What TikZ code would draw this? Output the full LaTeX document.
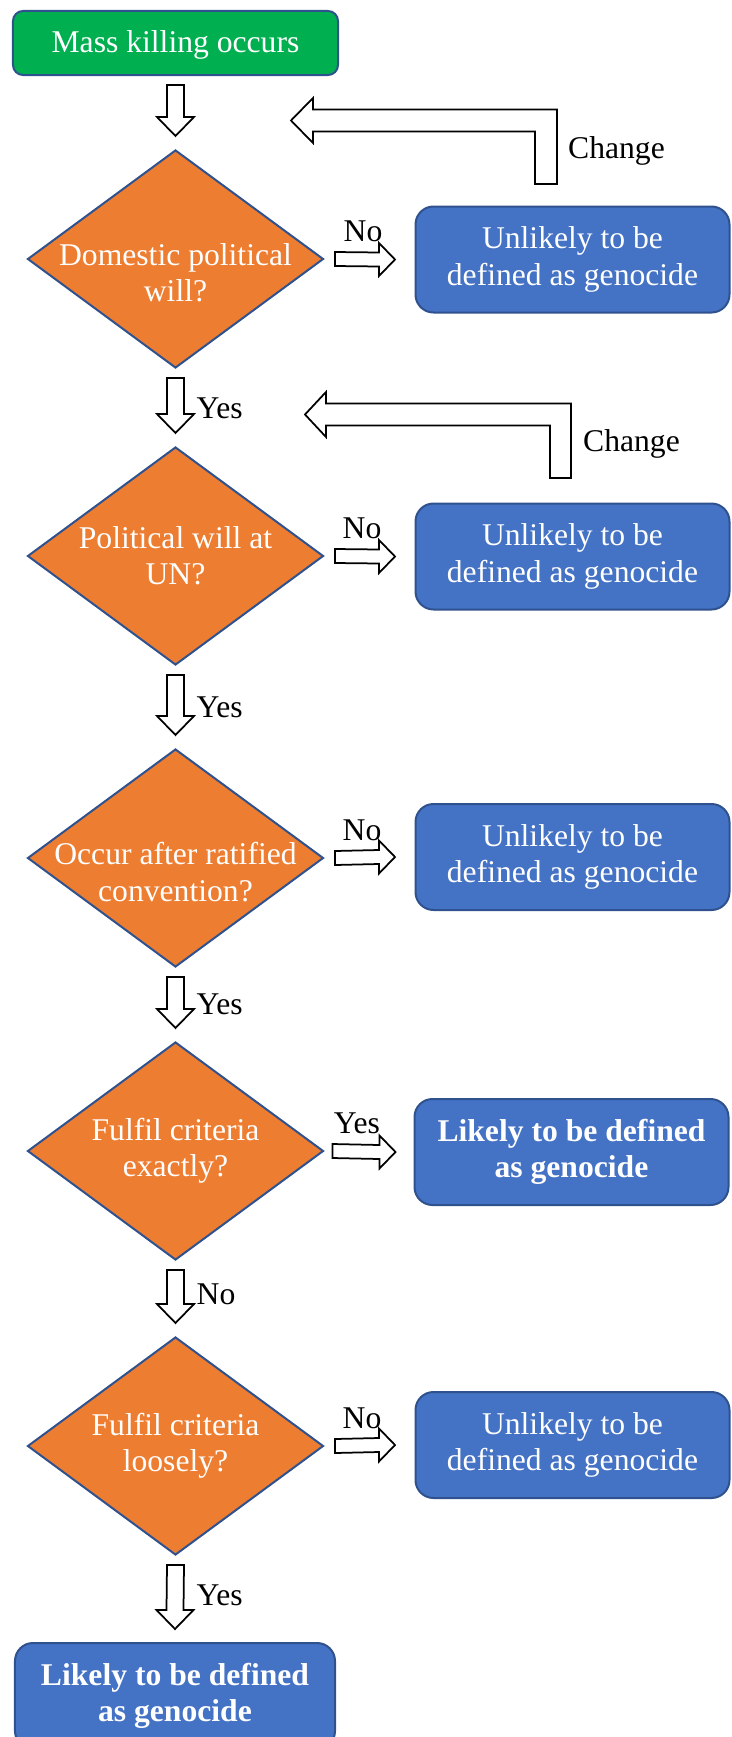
\documentclass[tikz,border=0pt]{standalone}
\usepackage{fontspec}
\setmainfont{Liberation Serif}
\usetikzlibrary{shapes.geometric,calc}

\definecolor{flowgreen}{HTML}{00B050}
\definecolor{floworange}{HTML}{ED7D31}
\definecolor{flowblue}{HTML}{4472C4}
\definecolor{flowedge}{HTML}{2F528F}

\begin{document}
\begin{tikzpicture}[x=0.2mm,y=-0.2mm,font=\fontsize{18}{20.7}\selectfont,
    startbox/.style={rectangle,rounded corners=2mm,fill=flowgreen,draw=flowedge,line width=0.4mm,
        minimum width=65mm,minimum height=12.8mm,text=white},
    question/.style={diamond,fill=floworange,draw=flowedge,line width=0.4mm,
        minimum width=59.2mm,minimum height=43.6mm,inner sep=0pt},
    qtext/.style={text=white,align=center},
    outcome/.style={rectangle,rounded corners=3.6mm,fill=flowblue,draw=flowedge,line width=0.4mm,
        minimum width=62.8mm,minimum height=21.2mm,text=white,align=center},
    likely/.style={outcome,font=\fontsize{18}{20.7}\selectfont\bfseries},
    blockline/.style={draw=black,fill=white,line width=0.35mm,line join=miter},
    downblock/.style={blockline,to path={
        ($(\tikztostart)+(-8.5,0)$) -- ($(\tikztotarget)+(-8.5,-19)$) -- ($(\tikztotarget)+(-18.5,-19)$)
        -- (\tikztotarget) -- ($(\tikztotarget)+(18.5,-19)$) -- ($(\tikztotarget)+(8.5,-19)$)
        -- ($(\tikztostart)+(8.5,0)$) -- cycle}},
    rightblock/.style={blockline,to path={
        ($(\tikztostart)+(0,-7)$) -- ($(\tikztotarget)+(-16,-7)$) -- ($(\tikztotarget)+(-16,-16.5)$)
        -- (\tikztotarget) -- ($(\tikztotarget)+(-16,16.5)$) -- ($(\tikztotarget)+(-16,7)$)
        -- ($(\tikztostart)+(0,7)$) -- cycle}}]

    \useasboundingbox (0,0) rectangle (731,1737);
    \clip (0,0) rectangle (731,1737);

    %===========================
    % Questions
    %===========================
    \node (start) [startbox,text depth=0.6mm] at (175.5,43) {Mass killing occurs};
    \node (d1) [question,label={[qtext,yshift=-2.8mm]center:{Domestic political\\will?}}] at (175.5,259) {};
    \node (d2) [question,label={[qtext]center:{Political will at\\UN?}}] at (175.5,556) {};
    \node (d3) [question,label={[qtext,yshift=-2.8mm]center:{Occur after ratified\\convention?}}] at (175.5,858) {};
    \node (d4) [question,label={[qtext]center:{Fulfil criteria\\exactly?}}] at (175.5,1151) {};
    \node (d5) [question,label={[qtext]center:{Fulfil criteria\\loosely?}}] at (175.5,1446) {};

    %===========================
    % Outcomes
    %===========================
    \node (u1) [outcome] at (572.5,259.5) {Unlikely to be\\defined as genocide};
    \node (u2) [outcome] at (572.5,556.5) {Unlikely to be\\defined as genocide};
    \node (u3) [outcome] at (572.5,857) {Unlikely to be\\defined as genocide};
    \node (l4) [likely] at (571.5,1152) {Likely to be defined\\as genocide};
    \node (u5) [outcome] at (572.5,1445) {Unlikely to be\\defined as genocide};
    \node (l6) [likely,minimum width=64mm] at (175,1696) {Likely to be defined\\as genocide};

    %===========================
    % Down arrows
    %===========================
    \draw[downblock] ([yshift=-1.8mm]start.south) to ([yshift=2.6mm]d1.north);
    \draw[downblock] ([yshift=-1.8mm]d1.south) to ([yshift=2.6mm]d2.north);
    \draw[downblock] ([yshift=-1.8mm]d2.south) to ([yshift=2.6mm]d3.north);
    \draw[downblock] ([yshift=-1.8mm]d3.south) to ([yshift=2.6mm]d4.north);
    \draw[downblock] ([yshift=-1.8mm]d4.south) to ([yshift=2.6mm]d5.north);
    \draw[downblock] ([yshift=-1.8mm]d5.south) to ([yshift=2.6mm]l6.north);
    \node (yes1) [anchor=base west] at (190.5,418) {Yes};
    \node (yes2) [anchor=base west] at (190.5,717) {Yes};
    \node (yes3) [anchor=base west] at (190.5,1014) {Yes};
    \node (no4) [anchor=base west] at (190.5,1304) {No};
    \node (yes5) [anchor=base west] at (190.5,1605) {Yes};

    %===========================
    % Right arrows
    %===========================
    \draw[rightblock] ([xshift=2.1mm]d1.east) to ([xshift=-3.9mm]u1.west);
    \draw[rightblock] ([xshift=2.1mm]d2.east) to ([xshift=-3.9mm]u2.west);
    \draw[rightblock] ([xshift=2.1mm]d3.east) to ([xshift=-3.9mm]u3.west);
    \draw[rightblock] ([xshift=1.6mm]d4.east) to ([xshift=-3.6mm]l4.west);
    \draw[rightblock] ([xshift=2.1mm]d5.east) to ([xshift=-3.9mm]u5.west);
    \node (no1) [anchor=base] at (363,241) {No};
    \node (no2) [anchor=base] at (362,538) {No};
    \node (no3) [anchor=base] at (362,840) {No};
    \node (yes4) [anchor=base] at (357,1133) {Yes};
    \node (no5) [anchor=base] at (362,1428) {No};

    %===========================
    % Change loops
    %===========================
    \coordinate (ch1foot) at (546,184);
    \coordinate (ch1tip) at (291,120.5);
    \draw[blockline] ($(ch1foot)+(11,0)$) |- ($(ch1tip)+(22,-11)$) -- ++(0,-11.5) -- (ch1tip)
        -- ++(22,22.5) -- ++(0,-11.5) -| ($(ch1foot)+(-11,0)$) -- cycle;
    \node (chg1) [anchor=base west] at (562,158) {Change};

    \coordinate (ch2foot) at (560.5,478);
    \coordinate (ch2tip) at (305,414.5);
    \draw[blockline] ($(ch2foot)+(10.5,0)$) |- ($(ch2tip)+(21,-11)$) -- ++(0,-11.5) -- (ch2tip)
        -- ++(21,22.5) -- ++(0,-11.5) -| ($(ch2foot)+(-10.5,0)$) -- cycle;
    \node (chg2) [anchor=base west] at (577,451) {Change};

\end{tikzpicture}
\end{document}
